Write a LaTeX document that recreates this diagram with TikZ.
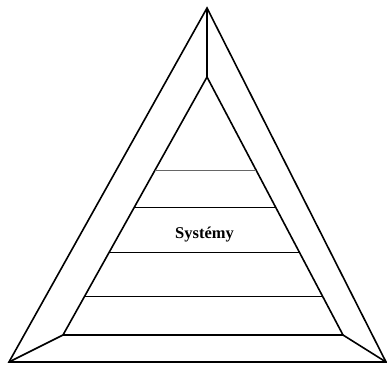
\documentclass[tikz,border=0pt]{standalone}
\usepackage{fontspec}
\setmainfont{Liberation Serif}
\usetikzlibrary{calc}
\begin{document}
\begin{tikzpicture}[x=1pt,y=-1pt,
  edge/.style={line width=1.6pt, line join=miter},
  band/.style={line width=0.7pt},
  lbl/.style={font=\bfseries\fontsize{16.5}{18}\selectfont, inner sep=0pt}]
\useasboundingbox (0,0) rectangle (387,365);
\coordinate (A) at (207,8);
\coordinate (B) at (9,362);
\coordinate (C) at (386,362);
\coordinate (a) at (207,77);
\coordinate (b) at (63,335);
\coordinate (c) at (343,335);
\draw[edge] (A) -- (B) -- (C) -- cycle;
\draw[edge] (a) -- (b) -- (c) -- cycle;
\draw[edge] (A) -- (a);
\draw[edge] (B) -- (b);
\draw[edge] (C) -- (c);
\draw[band, black!60] ($(a)!0.3605!(b)$) -- ($(a)!0.3605!(c)$);
\draw[band] ($(a)!0.5039!(b)$) -- ($(a)!0.5039!(c)$);
\draw[band] ($(a)!0.6783!(b)$) -- ($(a)!0.6783!(c)$);
\draw[band] ($(a)!0.8488!(b)$) -- ($(a)!0.8488!(c)$);
\node[lbl, anchor=base] (t) at (204.5,238) {Systémy};
\end{tikzpicture}
\end{document}
